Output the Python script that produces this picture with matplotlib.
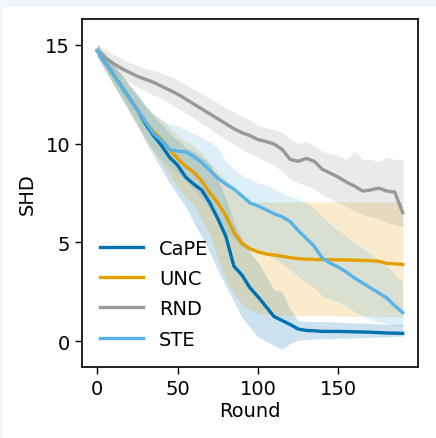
import matplotlib
matplotlib.use("Agg")
import matplotlib.pyplot as plt
from matplotlib.patches import Rectangle

rounds = list(range(0, 191, 5))

cape_mean = [14.7, 14.1, 13.5, 12.9, 12.3, 11.7, 11.0, 10.4, 9.9, 9.3, 8.9, 8.3, 7.95, 7.65, 7.0, 6.2, 5.3, 3.8, 3.35, 2.7,
             2.25, 1.75, 1.25, 1.05, 0.85, 0.62, 0.55, 0.53, 0.5, 0.5, 0.5, 0.49, 0.48, 0.47, 0.46, 0.44, 0.42, 0.41, 0.4]
cape_lo = [14.4, 13.7, 13.0, 12.3, 11.6, 10.9, 10.1, 9.4, 8.7, 8.0, 7.4, 6.8, 6.0, 5.3, 4.5, 3.6, 2.8, 2.0, 1.2, 0.7,
           0.2, 0.0, -0.2, -0.4, -0.1, 0.05, 0.1, 0.12, 0.13, 0.14, 0.15, 0.16, 0.17, 0.18, 0.2, 0.21, 0.22, 0.24, 0.25]
cape_hi = [15.0, 14.5, 14.0, 13.5, 13.0, 12.5, 11.9, 11.4, 11.0, 10.5, 10.2, 9.8, 9.6, 9.3, 9.0, 8.2, 7.2, 6.0, 5.2, 4.5,
           4.0, 3.3, 2.6, 2.5, 1.6, 1.05, 1.0, 1.0, 1.0, 0.98, 0.97, 0.95, 0.93, 0.92, 0.9, 0.88, 0.87, 0.86, 0.85]

unc_mean = [14.7, 14.1, 13.5, 12.9, 12.3, 11.7, 11.1, 10.6, 10.2, 9.7, 9.25, 8.85, 8.55, 8.1, 7.5, 7.0, 6.35, 5.5, 4.95, 4.68,
            4.52, 4.42, 4.36, 4.3, 4.23, 4.18, 4.15, 4.14, 4.13, 4.12, 4.12, 4.11, 4.1, 4.09, 4.08, 4.05, 3.94, 3.92, 3.88]
unc_lo = [14.4, 13.7, 13.0, 12.3, 11.6, 10.9, 10.2, 9.6, 9.0, 8.4, 7.8, 7.3, 6.9, 6.2, 5.4, 4.2, 3.1, 2.4, 1.9, 1.6,
          1.45, 1.35, 1.3, 1.3, 1.3, 1.3, 1.3, 1.3, 1.3, 1.3, 1.28, 1.28, 1.28, 1.27, 1.27, 1.26, 1.26, 1.25, 1.25]
unc_hi = [15.0, 14.5, 14.0, 13.5, 12.9, 12.4, 11.9, 11.5, 11.2, 10.8, 10.4, 10.1, 9.9, 9.5, 9.0, 8.6, 8.2, 7.6, 7.2, 7.05,
          7.05, 7.05, 7.05, 7.05, 7.05, 7.05, 7.05, 7.05, 7.05, 7.05, 7.05, 7.05, 7.05, 7.05, 7.05, 7.05, 7.05, 7.05, 7.05]

rnd_mean = [14.7, 14.35, 14.05, 13.8, 13.6, 13.4, 13.25, 13.1, 12.9, 12.7, 12.5, 12.25, 12.0, 11.75, 11.5, 11.25, 11.0, 10.75, 10.55, 10.4,
            10.2, 10.1, 9.98, 9.7, 9.2, 9.1, 9.25, 9.1, 8.7, 8.5, 8.3, 8.05, 7.85, 7.6, 7.65, 7.75, 7.6, 7.55, 6.5]
rnd_lo = [14.4, 14.0, 13.65, 13.35, 13.1, 12.85, 12.65, 12.45, 12.25, 12.05, 11.8, 11.55, 11.3, 11.0, 10.75, 10.45, 10.2, 9.95, 9.7, 9.5,
          9.3, 9.1, 8.9, 8.6, 8.2, 8.0, 7.9, 7.7, 7.4, 7.2, 7.0, 6.8, 6.6, 6.4, 6.3, 6.2, 6.0, 5.9, 5.8]
rnd_hi = [15.0, 14.75, 14.5, 14.3, 14.1, 13.95, 13.8, 13.7, 13.55, 13.4, 13.2, 13.0, 12.75, 12.5, 12.3, 12.05, 11.8, 11.6, 11.4, 11.2,
          10.9, 10.8, 10.7, 10.6, 10.2, 10.0, 10.1, 9.9, 9.6, 9.5, 9.4, 9.2, 9.6, 9.2, 9.2, 9.1, 9.3, 9.2, 9.2]

ste_mean = [14.7, 14.1, 13.5, 12.9, 12.3, 11.7, 11.1, 10.5, 10.15, 9.7, 9.62, 9.58, 9.35, 9.05, 8.65, 8.25, 7.95, 7.7, 7.35, 7.0,
            6.85, 6.65, 6.45, 6.3, 6.05, 5.6, 5.2, 4.8, 4.2, 3.95, 3.75, 3.5, 3.2, 2.95, 2.7, 2.45, 2.2, 1.8, 1.45]
ste_lo = [14.4, 13.75, 13.05, 12.4, 11.7, 11.0, 10.3, 9.7, 9.2, 8.8, 8.5, 8.1, 7.7, 7.2, 6.7, 6.1, 5.5, 5.1, 4.8, 4.6,
          4.5, 4.4, 4.2, 3.9, 3.6, 3.3, 3.0, 2.7, 2.3, 2.1, 2.0, 1.8, 1.5, 1.3, 1.1, 1.0, 0.9, 0.8, 0.75]
ste_hi = [15.0, 14.45, 13.9, 13.4, 12.9, 12.4, 11.9, 11.5, 11.2, 11.0, 10.9, 10.7, 10.5, 10.3, 10.1, 9.8, 9.1, 8.7, 8.4, 8.2,
          8.0, 7.9, 7.7, 7.5, 7.3, 7.2, 7.0, 6.7, 6.3, 5.9, 5.6, 5.3, 5.0, 4.7, 4.4, 4.1, 3.8, 3.4, 3.0]

labels = ["CaPE", "UNC", "RND", "STE"]
colors = ["#0072B2", "#E69F00", "#999999", "#56B4E9"]
x_ticks = [0, 50, 100, 150]
y_ticks = [0, 5, 10, 15]

fig = plt.figure(figsize=(4.36, 4.39), dpi=100, facecolor="white")
fig.patches.append(Rectangle((0, 1 - 8 / 439), 1, 8 / 439, transform=fig.transFigure,
                             facecolor="#f3f6f9", edgecolor="none", zorder=0))
fig.patches.append(Rectangle((0, 0), 3 / 436, 1, transform=fig.transFigure,
                             facecolor="#f3f6f9", edgecolor="none", zorder=0))

ax = fig.add_axes([82 / 436, 1 - 368 / 439, (418 - 82) / 436, (368 - 20) / 439])

series = [
    (cape_mean, cape_lo, cape_hi),
    (unc_mean, unc_lo, unc_hi),
    (rnd_mean, rnd_lo, rnd_hi),
    (ste_mean, ste_lo, ste_hi),
]
for (m, lo, hi), c in zip(series, colors):
    ax.fill_between(rounds, lo, hi, color=c, alpha=0.2, linewidth=0)
for (m, lo, hi), c, lab in zip(series, colors, labels):
    ax.plot(rounds, m, color=c, linewidth=2.4, label=lab)

ax.set_xlim(-9.5, 199.5)
ax.set_ylim(-1.3, 16.3)
ax.set_xticks(x_ticks)
ax.set_yticks(y_ticks)
ax.tick_params(labelsize=14, length=5, width=1)
ax.set_xlabel("Round", fontsize=14, labelpad=2)
ax.set_ylabel("SHD", fontsize=14, labelpad=6)
for s in ax.spines.values():
    s.set_linewidth(1.2)

ax.legend(loc="lower left", frameon=False, fontsize=14, handlelength=2.2,
          labelspacing=0.58, borderaxespad=0.55, handletextpad=0.8)

fig.savefig("out.png", dpi=100, facecolor=fig.get_facecolor())
